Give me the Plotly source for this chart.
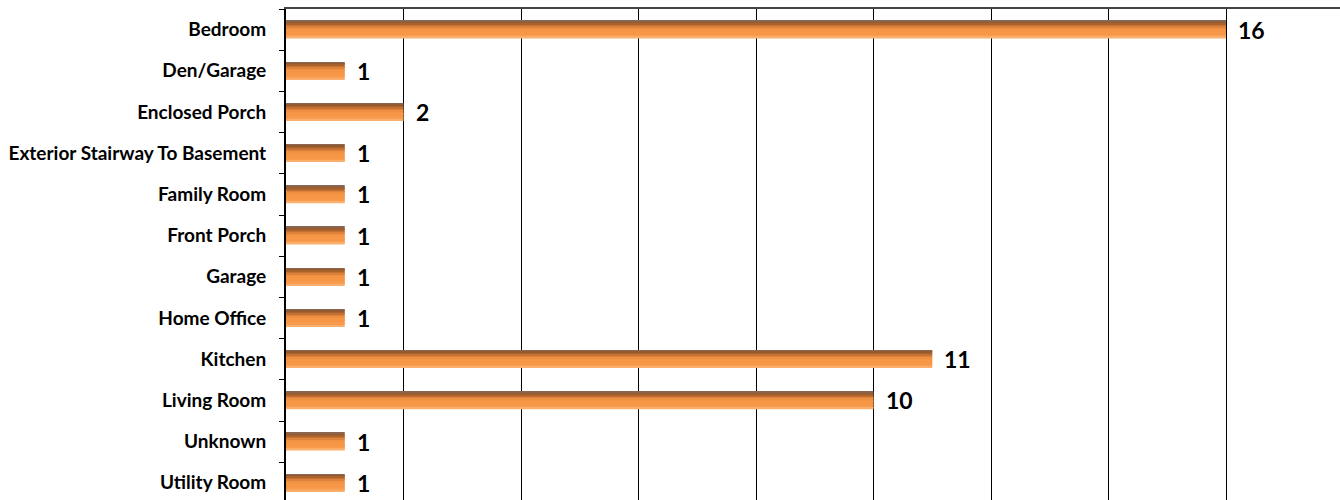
import plotly.graph_objects as go

categories = ["Bedroom", "Den/Garage", "Enclosed Porch", "Exterior Stairway To Basement",
              "Family Room", "Front Porch", "Garage", "Home Office", "Kitchen",
              "Living Room", "Unknown", "Utility Room"]
counts = [16, 1, 2, 1, 1, 1, 1, 1, 11, 10, 1, 1]

# vertical gradient of the bars, top to bottom
shades = ["#8a6650", "#935a30", "#a9622c", "#c57133", "#de823b", "#ee8f42",
          "#f49546", "#f79647", "#f79646", "#f79748", "#f89c50", "#fab06c"]

bar_w = 0.425
n = len(shades)
h = bar_w / n

fig = go.Figure()
for i, c in enumerate(shades):
    fig.add_trace(go.Bar(
        y=categories, x=counts, orientation="h",
        width=h * 1.02, offset=-bar_w / 2 + i * h,
        marker=dict(color=c, line=dict(width=0)),
        hoverinfo="skip" if i else "x+y", showlegend=False,
    ))

for cat, v in zip(categories, counts):
    fig.add_annotation(x=v, y=cat, text=str(v), showarrow=False,
                       xanchor="left", yanchor="middle", xshift=10, yshift=0,
                       font=dict(family="Lato", size=23, color="#000000", weight="bold"))

band_px = 41.2
plot_h = 500 - 9
fig.update_layout(
    width=1340, height=500,
    margin=dict(l=286, r=0, t=9, b=0),
    paper_bgcolor="white", plot_bgcolor="white",
    barmode="overlay",
    font=dict(family="Lato", color="#000000"),
    xaxis=dict(range=[0, 1054 / 58.75], dtick=2, tick0=0, showgrid=True,
               gridcolor="#000000", gridwidth=1, showticklabels=False,
               zeroline=False, showline=True, linecolor="#444444", linewidth=1.5,
               side="top", ticks=""),
    yaxis=dict(type="category", categoryorder="array", categoryarray=categories,
               range=[-0.5 + plot_h / band_px, -0.5],
               showline=True, linecolor="#000000", linewidth=2,
               ticks="outside", ticklen=5, tickcolor="#000000", tickwidth=1,
               tickson="boundaries", showgrid=False, zeroline=False,
               ticklabelstandoff=14,
               tickfont=dict(family="Lato", size=19, color="#000000", weight="bold")),
)

fig.write_html("out.html", config={"displayModeBar": False},
               post_script="document.body.style.margin='0';document.body.style.overflow='hidden';")
